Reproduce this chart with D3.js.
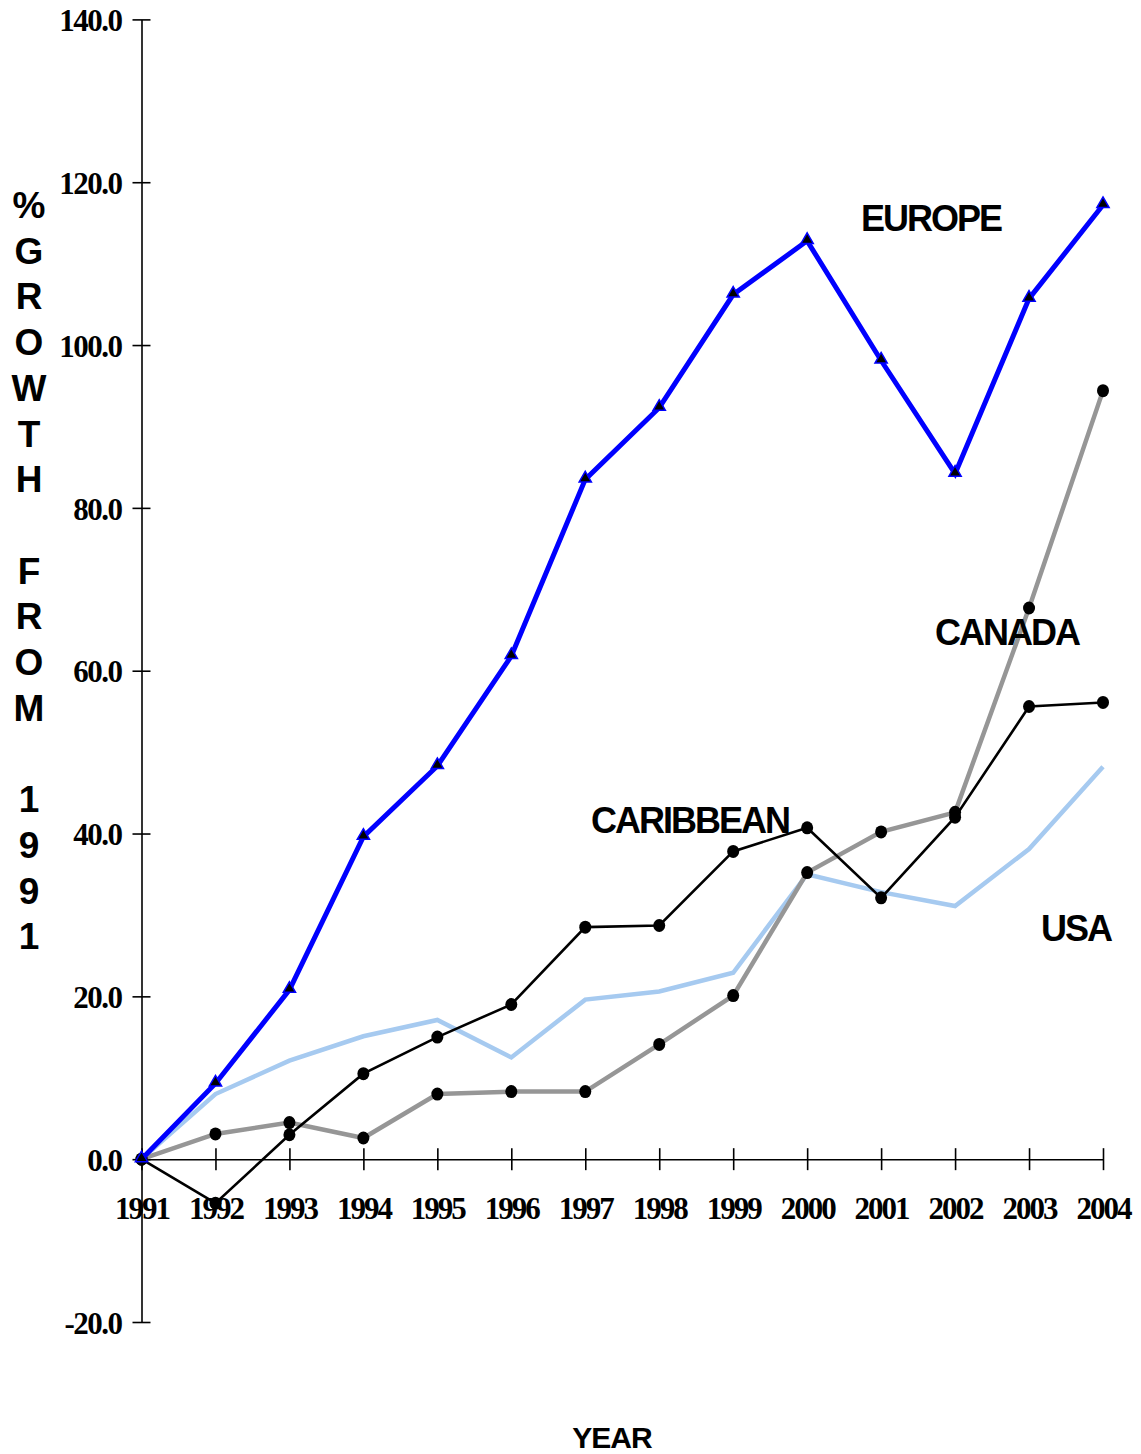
<!DOCTYPE html>
<html>
<head>
<meta charset="utf-8">
<script src="https://cdn.jsdelivr.net/npm/d3@7"></script>
<style>
  html, body { margin: 0; padding: 0; background: #fff; }
  svg { display: block; }
</style>
</head>
<body>
<svg id="chart" width="1141" height="1454"></svg>
<script>
const years = [1991, 1992, 1993, 1994, 1995, 1996, 1997, 1998, 1999, 2000, 2001, 2002, 2003, 2004];
const europe = [0, 9.3, 20.8, 39.6, 48.3, 61.8, 83.5, 92.3, 106.2, 112.8, 98.1, 84.2, 105.7, 117.2];
const usa = [0, 8.0, 12.1, 15.1, 17.1, 12.5, 19.6, 20.6, 22.9, 35.0, 32.8, 31.1, 38.1, 48.2];
const canada = [0, 3.1, 4.5, 2.6, 8.0, 8.3, 8.3, 14.1, 20.1, 35.2, 40.2, 42.6, 67.7, 94.4];
const caribbean = [0, -5.4, 3.0, 10.5, 15.0, 19.0, 28.5, 28.7, 37.8, 40.7, 32.1, 42.0, 55.6, 56.1];
const yTicks = [-20, 0, 20, 40, 60, 80, 100, 120, 140];
const yTitle = ["%", "G", "R", "O", "W", "T", "H", "", "F", "R", "O", "M", "", "1", "9", "9", "1"];

const svg = d3.select("#chart");
const x = d3.scaleLinear().domain([1991, 2004]).range([141.5, 1103]);
const y = d3.scaleLinear().domain([-20, 140]).range([1322, 19.4]);

const serif = "'Liberation Serif', 'Times New Roman', serif";
const sans = "'Liberation Sans', Arial, sans-serif";

// Y axis
const yAxis = svg.append("g").attr("transform", `translate(${x(1991)},0)`)
  .call(d3.axisLeft(y).tickValues(yTicks).tickSizeInner(9).tickSizeOuter(0).tickPadding(12)
    .tickFormat(d => d.toFixed(1)));
yAxis.select(".domain").attr("stroke", "#000").attr("stroke-width", 1.6);
yAxis.selectAll(".tick line").attr("x1", 9).attr("stroke", "#000").attr("stroke-width", 1.6);
yAxis.selectAll(".tick text")
  .attr("font-family", serif).attr("font-weight", "bold").attr("font-size", 31)
  .attr("letter-spacing", "-1.5px").attr("fill", "#000").attr("x", -20).attr("dy", "0.36em");

// X axis
const xAxis = svg.append("g").attr("transform", `translate(0,${y(0)})`)
  .call(d3.axisBottom(x).tickValues(years).tickSizeInner(11).tickSizeOuter(0)
    .tickFormat(d3.format("d")));
xAxis.select(".domain").attr("stroke", "#000").attr("stroke-width", 1.6);
xAxis.selectAll(".tick line").attr("y1", -11).attr("stroke", "#000").attr("stroke-width", 1.6);
xAxis.selectAll(".tick text")
  .attr("font-family", serif).attr("font-weight", "bold").attr("font-size", 31)
  .attr("letter-spacing", "-2px").attr("fill", "#000").attr("y", 60).attr("dy", 0);

const line = d3.line().x((d, i) => x(years[i])).y(d => y(d));

// USA
svg.append("path").datum(usa).attr("d", line)
  .attr("fill", "none").attr("stroke", "#A6CAF0").attr("stroke-width", 4.5);

// Canada
svg.append("path").datum(canada).attr("d", line)
  .attr("fill", "none").attr("stroke", "#969696").attr("stroke-width", 4.5);
svg.append("g").selectAll("ellipse").data(canada).join("ellipse")
  .attr("cx", (d, i) => x(years[i])).attr("cy", d => y(d)).attr("rx", 6).attr("ry", 6.5).attr("fill", "#000");

// Caribbean
svg.append("path").datum(caribbean).attr("d", line)
  .attr("fill", "none").attr("stroke", "#000").attr("stroke-width", 2.6);
svg.append("g").selectAll("ellipse").data(caribbean).join("ellipse")
  .attr("cx", (d, i) => x(years[i])).attr("cy", d => y(d)).attr("rx", 6).attr("ry", 6.5).attr("fill", "#000");

// Europe
svg.append("path").datum(europe).attr("d", line)
  .attr("fill", "none").attr("stroke", "#0000FF").attr("stroke-width", 5);
const tri = d3.symbol().type(d3.symbolTriangle).size(65);
svg.append("g").selectAll("path").data(europe).join("path")
  .attr("d", tri)
  .attr("transform", (d, i) => `translate(${x(years[i])},${y(d) - 1})`)
  .attr("fill", "#000").attr("stroke", "#0000FF").attr("stroke-width", 1.5);

// Series labels
const labels = [
  { text: "EUROPE", cx: 931, by: 231 },
  { text: "CANADA", cx: 1007, by: 645 },
  { text: "CARIBBEAN", cx: 690, by: 833 },
  { text: "USA", cx: 1076, by: 941 }
];
svg.append("g").selectAll("text").data(labels).join("text")
  .attr("x", d => d.cx).attr("y", d => d.by)
  .attr("text-anchor", "middle")
  .attr("font-family", sans).attr("font-weight", "bold").attr("font-size", 36)
  .attr("letter-spacing", "-2px").attr("fill", "#000")
  .text(d => d.text);

// Y title (stacked letters)
svg.append("g").selectAll("text").data(yTitle).join("text")
  .attr("x", 29).attr("y", (d, i) => 218 + i * 45.7)
  .attr("text-anchor", "middle")
  .attr("font-family", sans).attr("font-weight", "bold").attr("font-size", 37)
  .attr("fill", "#000")
  .text(d => d);

// X title
svg.append("text").attr("x", 612).attr("y", 1448)
  .attr("text-anchor", "middle")
  .attr("font-family", sans).attr("font-weight", "bold").attr("font-size", 30)
  .attr("letter-spacing", "-1px").attr("fill", "#000")
  .text("YEAR");
</script>
</body>
</html>
